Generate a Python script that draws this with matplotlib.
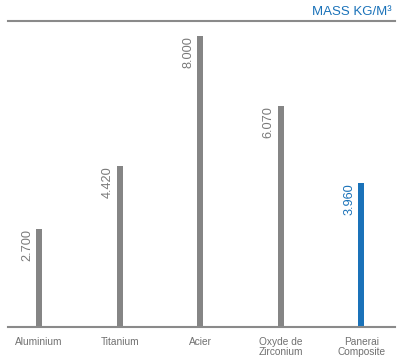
import matplotlib.pyplot as plt

plt.rcParams["font.family"] = ["Liberation Sans", "DejaVu Sans"]

materials = ["Aluminium", "Titanium", "Acier", "Oxyde de\nZirconium", "Panerai\nComposite"]
mass = [2.700, 4.420, 8.000, 6.070, 3.960]
value_labels = ["2.700", "4.420", "8.000", "6.070", "3.960"]
colors = ["#858585", "#858585", "#858585", "#858585", "#1a72b9"]
text_colors = ["#7a7a7a", "#7a7a7a", "#7a7a7a", "#7a7a7a", "#1a72b9"]

fig = plt.figure(figsize=(4, 3.61), dpi=100)
ax = fig.add_axes([0.02, 0.094, 0.968, 0.848])

x = range(len(materials))
ax.bar(x, mass, width=0.075, color=colors)

for i, v in enumerate(mass):
    ax.text(i - 0.075, v, value_labels[i], rotation=90, ha="right", va="top",
            fontsize=9.2, color=text_colors[i])

ax.set_xlim(-0.385, 4.42)
ax.set_ylim(0, 8.42)
for s in ["left", "right"]:
    ax.spines[s].set_visible(False)
ax.spines["bottom"].set_color("#8a8a8a")
ax.spines["top"].set_color("#8a8a8a")
ax.spines["bottom"].set_linewidth(1.5)
ax.spines["top"].set_linewidth(1.5)
ax.set_yticks([])
ax.set_xticks(list(x))
ax.set_xticklabels(materials, fontsize=7.3, color="#707070", linespacing=1.0)
ax.tick_params(axis="x", length=0, pad=7)

fig.text(0.98, 0.958, "MASS KG/M³", ha="right", va="baseline", fontsize=9.5,
         color="#1a72b9")

fig.savefig("out.png", dpi=100)
